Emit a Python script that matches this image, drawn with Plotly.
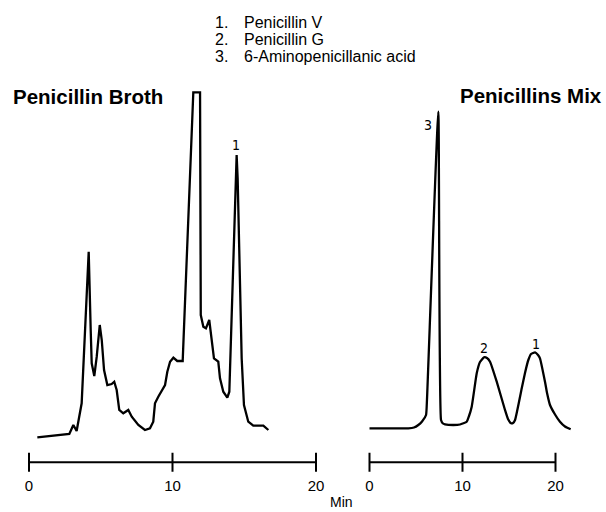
import plotly.graph_objects as go

W, H = 606, 512

# Penicillin broth chromatogram: retention time (min) and detector response (a.u.)
broth_time = [0.58, 2.81, 3.09, 3.32, 3.67, 3.83, 4.16, 4.30, 4.37, 4.55, 4.72, 4.93,
              5.07, 5.23, 5.46, 5.76, 5.94, 6.11, 6.29, 6.57, 6.92, 7.16, 7.62, 8.08,
              8.43, 8.66, 8.78, 9.01, 9.48, 9.64, 9.83, 10.06, 10.33, 10.71, 11.45,
              11.92, 11.97, 12.15, 12.33, 12.56, 12.73, 12.89, 13.19, 13.31, 13.54,
              13.82, 13.96, 14.47, 14.54, 14.82, 14.98, 15.28, 15.63, 16.33, 16.68]
broth_signal = [2.7, 6, 15, 9, 36.7, 83.3, 188.3, 110, 76.7, 64, 83.3, 115,
                100, 70, 55, 56, 58.3, 50, 30, 26.7, 30, 23.3, 15, 10,
                11.7, 18.3, 36.7, 43.3, 55, 68.3, 78.3, 82.3, 79, 79, 347.7,
                347.7, 125, 113.3, 111.7, 120, 101.7, 81.7, 78.3, 61.7, 48.3,
                42.3, 48.3, 285, 261.7, 81.7, 35, 18.3, 14.3, 14.3, 10]

# Standard mix of penicillins
mix_time = [0.0, 4.17, 4.78, 5.25, 5.65, 6.08, 6.18, 7.40, 7.69, 7.90, 8.12, 9.01,
            9.73, 10.45, 10.70, 10.99, 11.53, 11.88, 12.31, 12.63, 12.96, 13.68,
            14.57, 14.89, 15.22, 15.43, 15.65, 16.37, 16.72, 17.08, 17.37, 17.80,
            18.12, 18.33, 18.87, 19.09, 19.41, 19.95, 20.48, 21.02, 21.63]
mix_signal = [11.7, 11.7, 12.5, 15, 18.5, 25, 40, 328.3, 20, 16.5, 15.7, 15,
              15.5, 18.3, 24, 33.3, 66.7, 78, 82.7, 82, 78.3, 58.3,
              30, 21, 16.7, 17, 20, 51.7, 67, 80, 86, 87.7,
              85, 81.7, 58.3, 47, 35, 25.5, 18.3, 13.5, 10.7]

# Peak identification labels (text, time, response)
broth_peaks = [("1", 14.45, 295)]
mix_peaks = [("3", 6.27, 315), ("2", 12.31, 92.5), ("1", 17.85, 96.3)]

legend_nums = ["1.", "2.", "3."]
legend_names = ["Penicillin V", "Penicillin G", "6-Aminopenicillanic acid"]

tick_vals = [0, 10, 20]
tick_text = ["0", "10", "20"]

FONT = "Liberation Sans, Arial, Helvetica, sans-serif"
NARROW = "Liberation Sans Narrow, DejaVu Sans Condensed, Liberation Sans, sans-serif"

# Pixel layout of the two time axes: origin pixel and pixels per minute
LEFT_X0, LEFT_SCALE, LEFT_RANGE = 29.0, 14.35, [-2, 21]
RIGHT_X0, RIGHT_SCALE, RIGHT_RANGE = 369.5, 9.3, [-1, 23]


def domain(x0, scale, rng):
    return [(x0 + scale * rng[0]) / W, (x0 + scale * rng[1]) / W]


# vertical: response v sits at pixel 440 - v
Y_BOTTOM_PX = 474
y_range = [440 - Y_BOTTOM_PX, 440]
y_domain = [(H - Y_BOTTOM_PX) / H, 1]

fig = go.Figure()
# broth trace keeps its sharp corners (flat-topped overload peak)
fig.add_trace(go.Scatter(x=broth_time, y=broth_signal, mode="lines",
                         line=dict(color="black", width=2.3),
                         xaxis="x", yaxis="y", hoverinfo="skip"))
# mix trace has smooth, rounded peaks
fig.add_trace(go.Scatter(x=mix_time, y=mix_signal, mode="lines",
                         line=dict(color="black", width=2.3, shape="spline", smoothing=0.4),
                         xaxis="x2", yaxis="y2", hoverinfo="skip"))

axis_common = dict(showgrid=False, zeroline=False, showline=False, ticks="",
                   tickvals=tick_vals, ticktext=tick_text,
                   tickfont=dict(family=FONT, size=15, color="black"),
                   ticklabelstandoff=1, fixedrange=True)
yaxis_common = dict(range=y_range, domain=y_domain, visible=False, fixedrange=True)

fig.update_layout(
    width=W, height=H, margin=dict(l=0, r=0, t=0, b=0),
    paper_bgcolor="white", plot_bgcolor="white", showlegend=False,
    xaxis=dict(range=LEFT_RANGE, domain=domain(LEFT_X0, LEFT_SCALE, LEFT_RANGE),
               anchor="y", **axis_common),
    xaxis2=dict(range=RIGHT_RANGE, domain=domain(RIGHT_X0, RIGHT_SCALE, RIGHT_RANGE),
                anchor="y2", **axis_common),
    yaxis=dict(anchor="x", **yaxis_common),
    yaxis2=dict(anchor="x2", **yaxis_common),
)

# Time scale bars with crossing tick marks
BAR_V = 440 - 462.3
TICK_HALF = 9.5
shapes = []
for xr, yr in (("x", "y"), ("x2", "y2")):
    shapes.append(dict(type="line", xref=xr, yref=yr, x0=tick_vals[0], x1=tick_vals[-1],
                       y0=BAR_V, y1=BAR_V, line=dict(color="black", width=2)))
    for t in tick_vals:
        shapes.append(dict(type="line", xref=xr, yref=yr, x0=t, x1=t,
                           y0=BAR_V - TICK_HALF, y1=BAR_V + TICK_HALF,
                           line=dict(color="black", width=2)))
fig.update_layout(shapes=shapes)

ann = []
for txt, t, v in broth_peaks:
    ann.append(dict(text=txt, x=t, y=v, xref="x", yref="y", showarrow=False,
                    font=dict(family=NARROW, size=14, color="black")))
for txt, t, v in mix_peaks:
    ann.append(dict(text=txt, x=t, y=v, xref="x2", yref="y2", showarrow=False,
                    font=dict(family=NARROW, size=14, color="black")))

# Titles
ann.append(dict(text="<b>Penicillin Broth</b>", x=11 / W, y=1 - 96 / H,
                xref="paper", yref="paper", xanchor="left", yanchor="middle",
                showarrow=False, font=dict(family=FONT, size=20.5, color="black")))
ann.append(dict(text="<b>Penicillins Mix</b>", x=604 / W, y=1 - 95 / H,
                xref="paper", yref="paper", xanchor="right", yanchor="middle",
                showarrow=False, font=dict(family=FONT, size=20.5, color="black")))

# Peak key
for i, (num, name) in enumerate(zip(legend_nums, legend_names)):
    yc = 1 - (22 + 17 * i) / H
    ann.append(dict(text=num, x=213 / W, y=yc, xref="paper", yref="paper",
                    xanchor="left", yanchor="middle", showarrow=False,
                    font=dict(family=FONT, size=16, color="black")))
    ann.append(dict(text=name, x=241.5 / W, y=yc, xref="paper", yref="paper",
                    xanchor="left", yanchor="middle", showarrow=False,
                    font=dict(family=FONT, size=16, color="black")))

# Shared axis title
ann.append(dict(text="Min", x=341 / W, y=1 - 502 / H, xref="paper", yref="paper",
                xanchor="center", yanchor="middle", showarrow=False,
                font=dict(family=FONT, size=14, color="black")))

fig.update_layout(annotations=ann)

fig.write_html("out.html")
